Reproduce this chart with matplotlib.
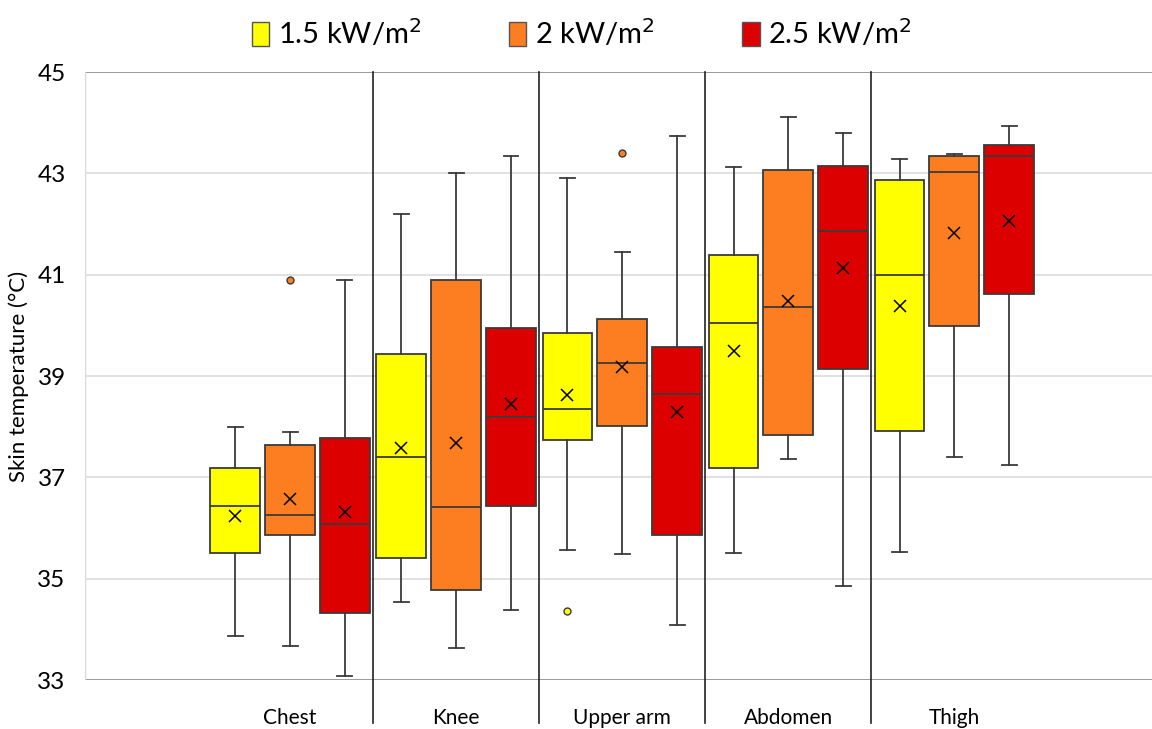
import numpy as np
import matplotlib
matplotlib.use("Agg")
import matplotlib.pyplot as plt
from matplotlib.patches import Patch

plt.rcParams['font.family'] = ['Lato', 'DejaVu Sans']

# 数据
categories = ['Chest', 'Knee', 'Upper arm', 'Abdomen', 'Thigh']
series_labels = ['1.5 kW/m$^2$', '2 kW/m$^2$', '2.5 kW/m$^2$']
colors = ['#FFFF00', '#FD7E21', '#DC0000']

# 1.5 kW/m2
y15_whislo = [33.86, 34.53, 35.56, 35.51, 35.52]
y15_q1 = [35.50, 35.40, 37.73, 37.19, 37.91]
y15_med = [36.44, 37.41, 38.35, 40.05, 41.00]
y15_q3 = [37.18, 39.43, 39.85, 41.38, 42.86]
y15_whishi = [38.00, 42.20, 42.91, 43.13, 43.28]
y15_mean = [36.24, 37.58, 38.63, 39.50, 40.39]
y15_fliers = [[], [], [34.37], [], []]

# 2 kW/m2
y2_whislo = [33.67, 33.63, 35.48, 37.37, 37.40]
y2_q1 = [35.86, 34.78, 38.02, 37.83, 39.99]
y2_med = [36.25, 36.41, 39.25, 40.37, 43.03]
y2_q3 = [37.64, 40.90, 40.12, 43.06, 43.34]
y2_whishi = [37.90, 43.01, 41.44, 44.12, 43.39]
y2_mean = [36.58, 37.67, 39.18, 40.49, 41.83]
y2_fliers = [[40.90], [], [43.41], [], []]

# 2.5 kW/m2
y25_whislo = [33.07, 34.39, 34.09, 34.86, 37.25]
y25_q1 = [34.32, 36.44, 35.86, 39.13, 40.62]
y25_med = [36.08, 38.20, 38.65, 41.86, 43.35]
y25_q3 = [37.77, 39.95, 39.57, 43.14, 43.55]
y25_whishi = [40.89, 43.34, 43.73, 43.79, 43.94]
y25_mean = [36.32, 38.45, 38.28, 41.14, 42.06]
y25_fliers = [[], [], [], [], []]

series = [
    (y15_whislo, y15_q1, y15_med, y15_q3, y15_whishi, y15_mean, y15_fliers),
    (y2_whislo, y2_q1, y2_med, y2_q3, y2_whishi, y2_mean, y2_fliers),
    (y25_whislo, y25_q1, y25_med, y25_q3, y25_whishi, y25_mean, y25_fliers),
]

fig = plt.figure(figsize=(11.52, 7.29), dpi=100)
ax = fig.add_axes([0.0738, 0.0672, 0.9262, 0.834])

offsets = [-0.33, 0.0, 0.33]
edge = '#3a3a3a'
x = np.arange(len(categories))

for s, (lo, q1, med, q3, hi, mean, fl) in enumerate(series):
    stats = []
    for i in range(len(categories)):
        stats.append(dict(whislo=lo[i], q1=q1[i], med=med[i], q3=q3[i],
                          whishi=hi[i], mean=mean[i], fliers=fl[i]))
    ax.bxp(stats, positions=x + offsets[s], widths=0.30, capwidths=0.09,
           patch_artist=True, showmeans=True, manage_ticks=False,
           boxprops=dict(facecolor=colors[s], edgecolor=edge, linewidth=1.3),
           medianprops=dict(color=edge, linewidth=1.3),
           whiskerprops=dict(color=edge, linewidth=1.3),
           capprops=dict(color=edge, linewidth=1.3),
           meanprops=dict(marker='x', markeredgecolor='black', markersize=9,
                          markeredgewidth=1.1),
           flierprops=dict(marker='o', markerfacecolor=colors[s],
                           markeredgecolor=edge, markersize=5,
                           markeredgewidth=1.0))

# 网格和坐标轴
ax.set_xlim(-1.235, 5.19)
ax.set_ylim(33, 45)
yticks = [33, 35, 37, 39, 41, 43, 45]
ax.set_yticks(yticks)
ax.set_yticklabels([str(t) for t in yticks], fontsize=17.5)
for t in yticks:
    c = '#808080' if t in (33, 45) else '#d9d9d9'
    ax.axhline(t, color=c, linewidth=1.1, zorder=0)
ax.tick_params(axis='y', length=0, pad=14)
ax.tick_params(axis='x', length=0, pad=20)
ax.set_xticks(x)
ax.set_xticklabels(categories, fontsize=15)
for sp in ax.spines.values():
    sp.set_visible(False)
ax.axvline(-1.235, color='#d9d9d9', linewidth=1.0, zorder=0)

# 类别分隔线
for b in [0.5, 1.5, 2.5, 3.5]:
    ax.plot([b, b], [-0.07, 1.0], color='#222222', linewidth=1.2,
            transform=ax.get_xaxis_transform(), clip_on=False, zorder=1)

ax.set_ylabel('Skin temperature (°C)', fontsize=16, labelpad=6)

handles = [Patch(facecolor=c, edgecolor='#555555', linewidth=1.0) for c in colors]
fig.legend(handles, series_labels, loc='center', bbox_to_anchor=(0.505, 0.955),
           ncol=3, frameon=False, fontsize=21, handlelength=0.6,
           handleheight=0.9, handletextpad=0.3, columnspacing=3.0)

fig.savefig('out.png', dpi=100)
